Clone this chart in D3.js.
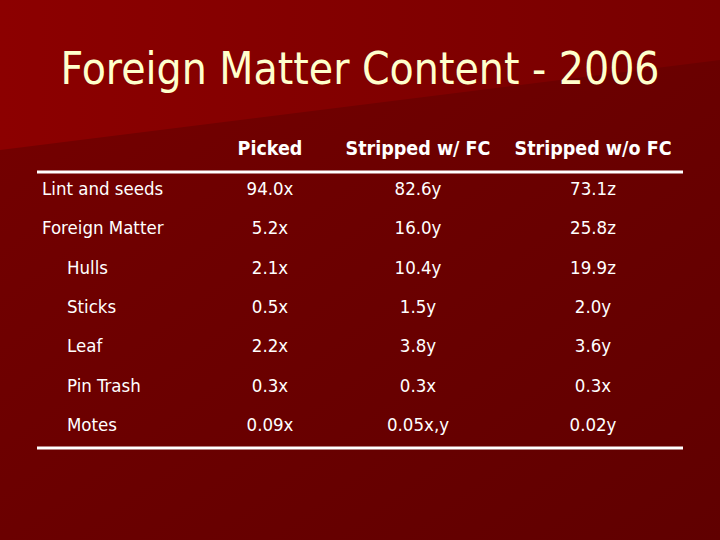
<!DOCTYPE html><html><head><meta charset="utf-8"><script src="https://cdn.jsdelivr.net/npm/d3@7"></script>
<style>body{margin:0;background:#6e0000}</style></head><body><svg id="s" width="720" height="540"></svg>
<script>
const title = "Foreign Matter Content - 2006";
const columns = ["Picked", "Stripped w/ FC", "Stripped w/o FC"];
const rowLabels = ["Lint and seeds", "Foreign Matter", "Hulls", "Sticks", "Leaf", "Pin Trash", "Motes"];
const indented = [false, false, true, true, true, true, true];
const picked = ["94.0x", "5.2x", "2.1x", "0.5x", "2.2x", "0.3x", "0.09x"];
const strippedFC = ["82.6y", "16.0y", "10.4y", "1.5y", "3.8y", "0.3x", "0.05x,y"];
const strippedNoFC = ["73.1z", "25.8z", "19.9z", "2.0y", "3.6y", "0.3x", "0.02y"];

const svg = d3.select("#s");
const defs = svg.append("defs");
const g = defs.append("linearGradient").attr("id","bg").attr("x1",0).attr("y1",0).attr("x2",1).attr("y2",1);
g.append("stop").attr("offset","0%").attr("stop-color","#760000");
g.append("stop").attr("offset","100%").attr("stop-color","#600000");
svg.append("rect").attr("width",720).attr("height",540).attr("fill","url(#bg)");
const g2 = defs.append("linearGradient").attr("id","hl").attr("x1",0).attr("y1",0).attr("x2",1).attr("y2",0);
g2.append("stop").attr("offset","0%").attr("stop-color","#8c0000");
g2.append("stop").attr("offset","100%").attr("stop-color","#780000");
svg.append("path").attr("d","M0,0 L720,0 L720,60 L0,150 Z").attr("fill","url(#hl)");

const font = "Tahoma, 'DejaVu Sans Condensed', 'DejaVu Sans', sans-serif";
svg.append("text").attr("x",360).attr("y",84).attr("text-anchor","middle").attr("fill","#ffffcc")
  .attr("font-family",font).attr("font-size",44).style("font-stretch","condensed").text(title);

const xs = {"Picked":270,"Stripped w/ FC":418,"Stripped w/o FC":593};
const y = d3.scalePoint().domain(rowLabels).range([189, 425]);

svg.selectAll(".h").data(columns).join("text").attr("x",d=>xs[d]).attr("y",155).attr("text-anchor","middle")
  .attr("fill","#fff").attr("font-family",font).attr("font-weight","bold").attr("font-size",19.5)
  .style("font-stretch","condensed").text(d=>d);

[172, 448].forEach(v=>svg.append("line").attr("x1",37).attr("x2",683).attr("y1",v).attr("y2",v)
  .attr("stroke","#fff").attr("stroke-width",3));

const cols = [picked, strippedFC, strippedNoFC];
rowLabels.forEach((r,i)=>{
  svg.append("text").attr("x",indented[i]?67:42).attr("y",y(r)+6).attr("fill","#fff")
    .attr("font-family",font).attr("font-size",18.5).style("font-stretch","condensed").text(r);
  cols.forEach((c,j)=>svg.append("text").attr("x",xs[columns[j]]).attr("y",y(r)+6).attr("text-anchor","middle")
    .attr("fill","#fff").attr("font-family",font).attr("font-size",18.5).style("font-stretch","condensed").text(c[i]));
});
</script></body></html>
